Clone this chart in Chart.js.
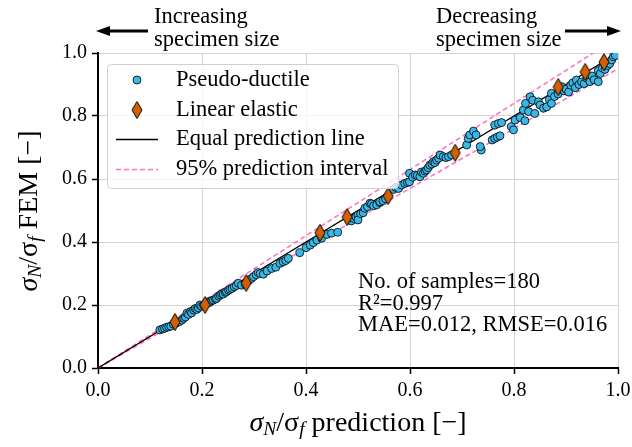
<!DOCTYPE html>
<html>
<head>
<meta charset="utf-8">
<script src="https://cdn.jsdelivr.net/npm/chart.js@4.4.1/dist/chart.umd.min.js"></script>
<style>
html,body{margin:0;padding:0;background:#fff}
#wrap{width:632px;height:447px}
</style>
</head>
<body>
<div id="wrap"><canvas id="c" width="632" height="447"></canvas></div>
<script>
// pseudo-ductile samples (prediction, FEM)
var ductileX = [0.119,0.124,0.128,0.132,0.136,0.140,0.145,0.150,0.156,0.161,0.165,0.168,0.171,0.174,0.178,0.180,0.184,0.187,0.190,0.193,0.196,0.199,0.203,0.208,0.212,0.215,0.219,0.222,0.226,0.228,0.232,0.235,0.238,0.241,0.245,0.247,0.251,0.254,0.258,0.262,0.266,0.270,0.276,0.283,0.290,
  0.295,0.299,0.304,0.308,0.312,0.318,0.325,0.334,0.342,0.350,0.356,0.361,0.366,0.388,0.400,0.408,0.414,0.421,0.430,0.440,0.449,0.461,
  0.487,0.491,0.496,0.500,0.500,0.505,0.510,0.513,0.518,0.523,0.526,0.530,0.536,0.542,0.542,0.548,0.553,
  0.568,0.573,0.578,0.584,0.590,0.595,0.599,0.599,0.605,0.610,0.614,0.619,0.622,0.626,0.629,0.632,0.635,0.638,0.642,0.645,0.648,0.651,0.655,0.658,0.664,0.669,0.674,0.680,0.709,0.712,0.715,0.722,0.727,0.737,
  0.735,0.758,0.763,0.768,0.773,0.763,0.770,0.776,0.795,0.799,0.802,0.812,0.818,0.821,0.828,0.822,0.831,0.836,0.840,0.847,0.850,0.857,0.863,0.868,0.872,0.872,0.878,0.885,0.892,0.896,0.900,0.905,0.909,0.913,0.918,0.920,0.925,0.930,0.935,0.940,0.946,0.950,0.954,0.962,0.962,0.966,0.970,0.975,0.980,0.984,0.988,0.991,0.995];
var ductileY = [0.121,0.124,0.126,0.129,0.131,0.133,0.139,0.142,0.147,0.152,0.158,0.162,0.174,0.170,0.179,0.175,0.184,0.189,0.186,0.191,0.200,0.196,0.199,0.204,0.210,0.208,0.214,0.216,0.219,0.221,0.228,0.232,0.236,0.235,0.240,0.243,0.247,0.250,0.253,0.258,0.262,0.269,0.263,0.266,0.278,
  0.284,0.290,0.296,0.303,0.300,0.298,0.308,0.316,0.320,0.332,0.337,0.341,0.348,0.366,0.382,0.390,0.398,0.406,0.412,0.424,0.428,0.431,
  0.467,0.475,0.480,0.486,0.470,0.490,0.493,0.507,0.512,0.523,0.521,0.515,0.518,0.525,0.528,0.531,0.537,
  0.567,0.573,0.570,0.581,0.586,0.589,0.591,0.618,0.606,0.613,0.611,0.607,0.622,0.618,0.625,0.629,0.636,0.644,0.648,0.655,0.652,0.660,0.666,0.676,0.671,0.668,0.671,0.676,0.708,0.729,0.740,0.752,0.740,0.692,
  0.703,0.724,0.729,0.733,0.737,0.771,0.776,0.779,0.766,0.756,0.787,0.795,0.819,0.785,0.814,0.840,0.861,0.850,0.808,0.845,0.835,0.825,0.829,0.852,0.872,0.840,0.862,0.870,0.893,0.880,0.885,0.876,0.898,0.905,0.890,0.914,0.900,0.908,0.903,0.920,0.909,0.927,0.915,0.944,0.909,0.935,0.952,0.948,0.960,0.966,0.978,0.988,0.992];

// linear elastic samples
var elasticX = [0.148,0.206,0.285,0.427,0.479,0.558,0.687,0.885,0.937,0.973];
var elasticY = [0.146,0.200,0.270,0.429,0.479,0.546,0.683,0.892,0.940,0.971];

// reference lines
var lineX = [0, 1];
var piFactor = [1.05, 0.95];
var tickVals = [0, 0.2, 0.4, 0.6, 0.8, 1.0];

var FONT = '"Liberation Serif", "DejaVu Serif", serif';
var BLUE = '#3cb6e6';
var ORANGE = '#d55e00';
var PINK = '#ff6fc4';
var TXT = 22.5;

function pts(xs, ys){
  var out = [];
  for (var i = 0; i < xs.length; i++) out.push({x: xs[i], y: ys[i]});
  return out;
}

// elongated diamond marker
function makeDiamond(w, h){
  var cv = document.createElement('canvas');
  cv.width = w + 2; cv.height = h + 2;
  var g = cv.getContext('2d');
  g.beginPath();
  g.moveTo(cv.width/2, 1);
  g.lineTo(cv.width - 1, cv.height/2);
  g.lineTo(cv.width/2, cv.height - 1);
  g.lineTo(1, cv.height/2);
  g.closePath();
  g.fillStyle = ORANGE; g.fill();
  g.lineWidth = 1; g.strokeStyle = '#000'; g.stroke();
  return cv;
}
var diamond = makeDiamond(10, 17);

// draws text pieces with italic/subscript parts, returns width
function mathText(ctx, parts, size, draw, x, y){
  var w = 0;
  parts.forEach(function(p){
    var s = p.sub ? size * 0.7 : size;
    ctx.font = (p.it ? 'italic ' : '') + s + 'px ' + FONT;
    var pw = ctx.measureText(p.t).width;
    if (draw) ctx.fillText(p.t, x + w, y + (p.sub ? size * 0.22 : 0));
    w += pw;
  });
  return w;
}

var xTitle = [{t:'σ', it:true},{t:'N', it:true, sub:true},{t:'/σ', it:false},{t:'f', it:true, sub:true},{t:' prediction [−]'}];
var yTitle = [{t:'σ', it:true},{t:'N', it:true, sub:true},{t:'/σ', it:false},{t:'f', it:true, sub:true},{t:' FEM [−]'}];

var decor = {
  id: 'decor',
  afterDatasetsDraw: function(chart){
    var ctx = chart.ctx;
    ctx.save();
    // legend box
    ctx.beginPath();
    ctx.roundRect(107.5, 64.5, 291, 124, 4);
    ctx.fillStyle = 'rgba(255,255,255,0.8)';
    ctx.fill();
    ctx.strokeStyle = '#d0d0d0'; ctx.lineWidth = 1; ctx.stroke();

    ctx.beginPath();
    ctx.arc(137, 80, 4, 0, Math.PI*2);
    ctx.fillStyle = BLUE; ctx.fill();
    ctx.lineWidth = 0.8; ctx.strokeStyle = '#000'; ctx.stroke();

    ctx.drawImage(diamond, 137 - diamond.width/2, 110 - diamond.height/2);

    ctx.beginPath(); ctx.moveTo(116, 139.5); ctx.lineTo(158, 139.5);
    ctx.strokeStyle = '#000'; ctx.lineWidth = 1.3; ctx.stroke();
    ctx.beginPath(); ctx.setLineDash([5, 3]); ctx.moveTo(116, 169.5); ctx.lineTo(158, 169.5);
    ctx.strokeStyle = PINK; ctx.lineWidth = 1.5; ctx.stroke();
    ctx.setLineDash([]);

    ctx.fillStyle = '#000';
    ctx.font = TXT + 'px ' + FONT;
    ctx.textBaseline = 'middle';
    ctx.textAlign = 'left';
    ['Pseudo-ductile','Linear elastic','Equal prediction line','95% prediction interval'].forEach(function(t, i){
      ctx.fillText(t, 176, 80 + i * 29.7);
    });
    ctx.restore();
  },
  afterDraw: function(chart){
    var ctx = chart.ctx;
    ctx.save();
    ctx.fillStyle = '#000';
    ctx.textBaseline = 'middle';
    ctx.textAlign = 'left';
    ctx.font = TXT + 'px ' + FONT;
    // statistics
    ctx.fillText('No. of samples=180', 358, 282);
    ctx.fillText('R²=0.997', 358, 304);
    ctx.fillText('MAE=0.012, RMSE=0.016', 358, 325);
    // specimen size notes
    ctx.fillText('Increasing', 154, 17);
    ctx.fillText('specimen size', 154, 40);
    ctx.fillText('Decreasing', 436, 17);
    ctx.fillText('specimen size', 436, 40);
    // arrows
    function arrow(x0, x1, y){
      var dir = x1 > x0 ? 1 : -1;
      ctx.beginPath(); ctx.moveTo(x0, y); ctx.lineTo(x1 - dir * 12, y);
      ctx.strokeStyle = '#000'; ctx.lineWidth = 3; ctx.stroke();
      ctx.beginPath();
      ctx.moveTo(x1, y); ctx.lineTo(x1 - dir * 14, y - 5); ctx.lineTo(x1 - dir * 14, y + 5);
      ctx.closePath(); ctx.fill();
    }
    arrow(148, 96, 31);
    arrow(565, 621, 31);
    // axis titles
    var size = 28;
    var wx = mathText(ctx, xTitle, size, false);
    mathText(ctx, xTitle, size, true, 358 - wx/2, 424);
    ctx.translate(30, 211);
    ctx.rotate(-Math.PI/2);
    var wy = mathText(ctx, yTitle, size, false);
    mathText(ctx, yTitle, size, true, -wy/2, 0);
    ctx.restore();
  }
};

function axis(fit){
  return {
    type: 'linear', min: 0, max: 1,
    afterBuildTicks: function(s){ s.ticks = tickVals.map(function(v){ return {value: v}; }); },
    ticks: {
      callback: function(v){ return Number(v).toFixed(1); },
      font: {family: FONT, size: 20}, color: '#000', padding: 5, maxRotation: 0
    },
    grid: {color: '#d3d3d3', lineWidth: 1, tickColor: '#000', tickLength: 6, tickWidth: 1.5},
    border: {color: '#000', width: 2},
    afterFit: fit
  };
}

new Chart(document.getElementById('c'), {
  type: 'scatter',
  data: {
    datasets: [
      {label: 'Linear elastic', data: pts(elasticX, elasticY), pointStyle: diamond, pointRadius: 8, borderWidth: 0},
      {label: 'Pseudo-ductile', data: pts(ductileX, ductileY), backgroundColor: BLUE, borderColor: '#000', borderWidth: 0.8, pointRadius: 4},
      {type: 'line', label: 'Equal prediction line', data: pts(lineX, lineX), borderColor: '#000', borderWidth: 1.3, pointRadius: 0, fill: false},
      {type: 'line', label: '95% prediction interval', data: pts(lineX, lineX.map(function(v){ return v * piFactor[0]; })), borderColor: PINK, borderWidth: 1.5, borderDash: [5, 3], pointRadius: 0, fill: false},
      {type: 'line', label: '95% lower', data: pts(lineX, lineX.map(function(v){ return v * piFactor[1]; })), borderColor: PINK, borderWidth: 1.5, borderDash: [5, 3], pointRadius: 0, fill: false}
    ]
  },
  options: {
    responsive: false,
    animation: false,
    devicePixelRatio: 1,
    layout: {padding: {top: 53, right: 14, left: 0, bottom: 0}},
    plugins: {legend: {display: false}, tooltip: {enabled: false}},
    scales: {
      x: axis(function(s){ s.height = 79; s.paddingLeft = 0; s.paddingRight = 0; }),
      y: axis(function(s){ s.width = 98; s.paddingTop = 0; s.paddingBottom = 0; })
    }
  },
  plugins: [decor]
});
</script>
</body>
</html>
